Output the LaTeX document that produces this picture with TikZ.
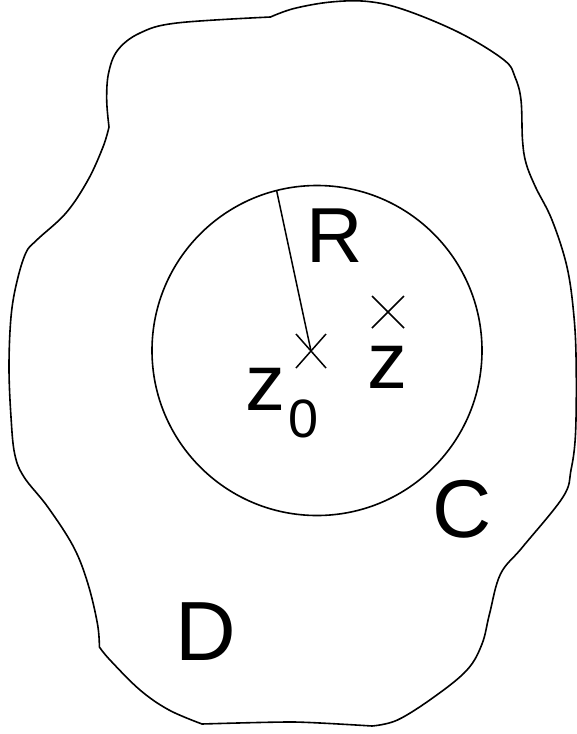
\documentclass[tikz,border=0pt]{standalone}
\usepackage{fontspec}
\setmainfont{Liberation Sans}
\begin{document}
\begin{tikzpicture}[x=1pt,y=-1pt,
  outline/.style={line width=1.6pt, line join=round},
  thin/.style={line width=1.5pt},
  lbl/.style={inner sep=0pt, anchor=base, font=\fontsize{80}{90}\selectfont}]
\useasboundingbox (0,0) rectangle (577,734);
% region D boundary
\draw[outline]
  plot[smooth, tension=0.6] coordinates {(270.5,17) (294,8.5) (331,2) (368,1.5) (405,10) (460,33) (504,60) (515,77) (521,100) (522.5,140) (526,163) (535.5,187) (552,220) (567,267) (574,317) (576.2,367) (575.5,434) (571,470) (563,497) (522.6,547) (500.5,574) (489.5,614) (482,644) (467,670) (434,697) (397.5,720) (372,726)}
  -- plot[smooth, tension=0.4] coordinates {(372,726) (294,722) (202,724)}
  -- plot[smooth, tension=0.6] coordinates {(202,724) (169,710) (140,690) (110,660) (99.4,647)}
  -- plot[smooth, tension=0.6] coordinates {(99.4,647) (97.5,624) (88,584) (73.6,547) (47.8,507) (24,477) (14.7,454) (11,417) (9,367) (11,317) (16.6,283) (25.8,253) (36.8,240) (66,213) (88,180) (103,147) (109,127)}
  -- plot[smooth, tension=0.6] coordinates {(109,127) (106.7,100) (108.6,73) (117.8,50) (140,33) (176.7,23) (270.5,17)}
  -- cycle;
% disk
\coordinate (c) at (317,350.5);
\draw[outline] (c) circle[radius=165];
% points
\coordinate (z0) at (311,351);
\coordinate (z) at (388,312);
\coordinate (rim) at (276.7,191);
\draw[thin] (rim) -- (z0);
\draw[thin] ([shift={(-15,-17)}]z0) -- ([shift={(15,17)}]z0)
            ([shift={(-15,17)}]z0) -- ([shift={(15,-17)}]z0);
\draw[thin] ([shift={(-16,-16)}]z) -- ([shift={(16,16)}]z)
            ([shift={(-16,16)}]z) -- ([shift={(16,-16)}]z);
% labels
\node[lbl, font=\fontsize{78}{90}\selectfont] (lR) at (334.5,262) {R};
\node[lbl, anchor=base west] (lz) at (367.5,388) {z};
\node[lbl, anchor=base west] (lz0) at (245.5,410) {z\kern3pt\raisebox{-27pt}{\fontsize{54}{60}\selectfont 0}};
\node[lbl, font=\fontsize{82}{90}\selectfont] (lC) at (462,537) {C};
\node[lbl, font=\fontsize{84}{90}\selectfont] (lD) at (205.5,660) {D};
\end{tikzpicture}
\end{document}
